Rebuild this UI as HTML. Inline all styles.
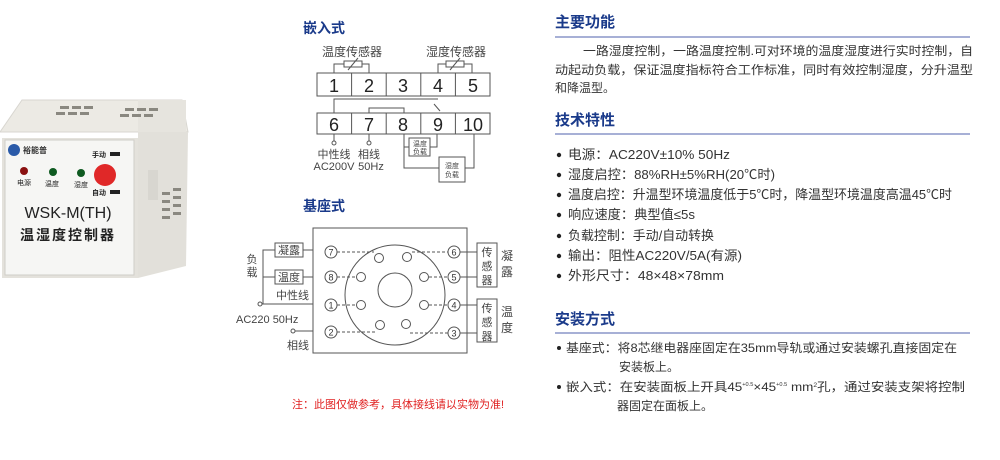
<!DOCTYPE html>
<html><head><meta charset="utf-8"><style>
html,body{margin:0;padding:0;background:#fff;}
svg{display:block;}
text{font-family:"Liberation Sans","Noto Sans CJK SC",sans-serif;}
</style></head><body>
<svg width="1000" height="460" viewBox="0 0 1000 460" xmlns="http://www.w3.org/2000/svg">
<!-- Product -->
<polygon points="22,100 182,100 188,132 0,132" fill="#eceae4" stroke="#d8d6d0"/>
<rect x="138" y="100" width="48" height="166" fill="#e6e4de"/>
<polygon points="138,132 188,132 186,266 138,278" fill="#e2e0da"/>
<rect x="148" y="170" width="10" height="30" fill="#d8d6d0"/>
<g fill="#8a8880">
<rect x="60" y="106" width="9" height="3"/><rect x="72" y="106" width="9" height="3"/><rect x="84" y="106" width="9" height="3"/>
<rect x="56" y="112" width="9" height="3"/><rect x="68" y="112" width="9" height="3"/><rect x="80" y="112" width="9" height="3"/>
<rect x="125" y="108" width="9" height="3"/><rect x="137" y="108" width="9" height="3"/><rect x="149" y="108" width="9" height="3"/>
<rect x="120" y="114" width="9" height="3"/><rect x="132" y="114" width="9" height="3"/><rect x="144" y="114" width="9" height="3"/>
<rect x="162" y="192" width="8" height="3"/><rect x="173" y="188" width="8" height="3"/>
<rect x="162" y="200" width="8" height="3"/><rect x="173" y="196" width="8" height="3"/>
<rect x="162" y="208" width="8" height="3"/><rect x="173" y="204" width="8" height="3"/>
<rect x="162" y="216" width="8" height="3"/><rect x="173" y="212" width="8" height="3"/>
</g>
<rect x="2" y="138" width="136" height="140" fill="#e4e2dc"/>
<rect x="5" y="140" width="129" height="135" fill="#f6f6f4" stroke="#cfcdc8"/>
<circle cx="14" cy="150" r="6" fill="#2a5aa8"/>
<text x="23" y="153" font-size="8" font-weight="bold" fill="#333">裕能普</text>
<text x="92" y="157" font-size="7" font-weight="bold" fill="#222">手动</text>
<rect x="110" y="152" width="10" height="4" fill="#222"/>
<text x="92" y="195" font-size="7" font-weight="bold" fill="#222">自动</text>
<rect x="110" y="190" width="10" height="4" fill="#222"/>
<circle cx="24" cy="171" r="4" fill="#8a1010"/>
<circle cx="53" cy="172" r="4" fill="#0e5a20"/>
<circle cx="81" cy="173" r="4" fill="#0e5a20"/>
<text x="17" y="185" font-size="7" fill="#222">电源</text>
<text x="45" y="186" font-size="7" fill="#222">温度</text>
<text x="74" y="187" font-size="7" fill="#222">湿度</text>
<circle cx="105" cy="175" r="11" fill="#e02828"/>
<text x="68" y="218" font-size="16" fill="#222" text-anchor="middle">WSK-M(TH)</text>
<text x="68" y="240" font-size="14" font-weight="bold" fill="#222" text-anchor="middle" letter-spacing="2">温湿度控制器</text>

<!-- 嵌入式 -->
<g stroke="#555" fill="none" stroke-width="1">
<text x="303" y="33" font-size="14" font-weight="bold" fill="#1a3a8a" stroke="none">嵌入式</text>
<text x="352" y="56" font-size="12" fill="#444" stroke="none" text-anchor="middle">温度传感器</text>
<text x="456" y="56" font-size="12" fill="#444" stroke="none" text-anchor="middle">湿度传感器</text>
<polyline points="334,73 334,64 369,64 369,73"/>
<rect x="344" y="61" width="18" height="6" fill="#fff"/><line x1="348" y1="70" x2="358" y2="58"/>
<polyline points="438,73 438,64 472,64 472,73"/>
<rect x="446" y="61" width="18" height="6" fill="#fff"/><line x1="450" y1="70" x2="460" y2="58"/>
<rect x="317" y="73" width="173" height="23"/>
<line x1="351.6" y1="73" x2="351.6" y2="96"/><line x1="386.2" y1="73" x2="386.2" y2="96"/><line x1="420.8" y1="73" x2="420.8" y2="96"/><line x1="455.4" y1="73" x2="455.4" y2="96"/>
<rect x="317" y="113" width="173" height="21"/>
<line x1="351.6" y1="113" x2="351.6" y2="134"/><line x1="386.2" y1="113" x2="386.2" y2="134"/><line x1="420.8" y1="113" x2="420.8" y2="134"/><line x1="455.4" y1="113" x2="455.4" y2="134"/>
<polyline points="334,113 334,99 438,99"/><line x1="434" y1="104" x2="440" y2="111"/>
<polyline points="369,113 369,108 404,108 404,113"/>
<line x1="334" y1="134" x2="334" y2="141"/><circle cx="334" cy="143" r="2"/>
<line x1="369" y1="134" x2="369" y2="141"/><circle cx="369" cy="143" r="2"/>
<polyline points="404,134 404,168 439,168"/>
<polyline points="404,147 409,147"/>
<polyline points="437,134 437,147 430,147"/>
<rect x="409" y="138" width="21" height="18"/>
<rect x="439" y="157" width="26" height="25"/>
<polyline points="474,134 474,168 465,168"/>
</g>
<g font-size="18" fill="#222" text-anchor="middle">
<text x="334" y="92">1</text><text x="369" y="92">2</text><text x="403" y="92">3</text><text x="438" y="92">4</text><text x="473" y="92">5</text>
<text x="334" y="131">6</text><text x="369" y="131">7</text><text x="403" y="131">8</text><text x="438" y="131">9</text><text x="473" y="131">10</text>
</g>
<g font-size="7" fill="#444" text-anchor="middle">
<text x="420" y="146">温度</text><text x="420" y="154">负载</text>
<text x="452" y="168">湿度</text><text x="452" y="177">负载</text>
</g>
<g font-size="11" fill="#444" text-anchor="middle">
<text x="334" y="158">中性线</text><text x="369" y="158">相线</text>
<text x="334" y="170">AC200V</text><text x="371" y="170">50Hz</text>
</g>

<!-- 基座式 -->
<text x="303" y="211" font-size="14" font-weight="bold" fill="#1a3a8a">基座式</text>
<g stroke="#555" fill="none" stroke-width="1">
<rect x="313" y="228" width="154" height="125"/>
<circle cx="395" cy="295" r="50"/>
<circle cx="395" cy="290" r="17"/>
<g fill="#fff">
<circle cx="379" cy="258" r="4.5"/><circle cx="407" cy="257" r="4.5"/>
<circle cx="361" cy="277" r="4.5"/><circle cx="424" cy="277" r="4.5"/>
<circle cx="361" cy="305" r="4.5"/><circle cx="424" cy="305" r="4.5"/>
<circle cx="380" cy="325" r="4.5"/><circle cx="406" cy="324" r="4.5"/>
</g>
<g stroke-dasharray="3,2">
<line x1="337" y1="252" x2="374" y2="252"/><line x1="337" y1="277" x2="356" y2="277"/><line x1="337" y1="305" x2="356" y2="305"/><line x1="337" y1="332" x2="376" y2="332"/>
<line x1="412" y1="252" x2="448" y2="252"/><line x1="429" y1="277" x2="448" y2="277"/><line x1="429" y1="305" x2="448" y2="305"/><line x1="410" y1="333" x2="448" y2="333"/>
</g>
<g fill="#fff">
<circle cx="331" cy="252" r="6"/><circle cx="331" cy="277" r="6"/><circle cx="331" cy="305" r="6"/><circle cx="331" cy="332" r="6"/>
<circle cx="454" cy="252" r="6"/><circle cx="454" cy="277" r="6"/><circle cx="454" cy="305" r="6"/><circle cx="454" cy="333" r="6"/>
</g>
<rect x="275" y="243" width="28" height="14"/><rect x="275" y="270" width="28" height="14"/>
<line x1="303" y1="250" x2="313" y2="250"/><line x1="303" y1="277" x2="313" y2="277"/>
<polyline points="275,250 263,250 263,304"/><line x1="263" y1="277" x2="275" y2="277"/>
<line x1="262" y1="304" x2="313" y2="304"/><circle cx="260" cy="304" r="2" fill="#fff"/>
<line x1="295" y1="331" x2="313" y2="331"/><circle cx="293" cy="331" r="2" fill="#fff"/>
<rect x="477" y="243" width="20" height="44"/><rect x="477" y="299" width="20" height="43"/>
<polyline points="460,252 477,252"/><polyline points="460,277 477,277"/>
<polyline points="460,305 477,305"/><polyline points="460,333 477,333"/>
</g>
<g font-size="9" fill="#333" text-anchor="middle">
<text x="331" y="255.5">7</text><text x="331" y="280.5">8</text><text x="331" y="308.5">1</text><text x="331" y="335.5">2</text>
<text x="454" y="255.5">6</text><text x="454" y="280.5">5</text><text x="454" y="308.5">4</text><text x="454" y="336.5">3</text>
</g>
<g font-size="11" fill="#444">
<text x="289" y="254" text-anchor="middle">凝露</text><text x="289" y="281" text-anchor="middle">温度</text>
<text x="252" y="263" text-anchor="middle">负</text><text x="252" y="276" text-anchor="middle">载</text>
<text x="276" y="299">中性线</text>
<text x="236" y="323">AC220 50Hz</text>
<text x="287" y="349">相线</text>
<text x="487" y="256" text-anchor="middle">传</text><text x="487" y="270" text-anchor="middle">感</text><text x="487" y="284" text-anchor="middle">器</text>
<text x="487" y="312" text-anchor="middle">传</text><text x="487" y="326" text-anchor="middle">感</text><text x="487" y="340" text-anchor="middle">器</text>
<text x="507" y="260" text-anchor="middle" font-size="12">凝</text><text x="507" y="276" text-anchor="middle" font-size="12">露</text>
<text x="507" y="316" text-anchor="middle" font-size="12">温</text><text x="507" y="332" text-anchor="middle" font-size="12">度</text>
</g>
<text x="398" y="408" font-size="11" fill="#e02020" text-anchor="middle">注：此图仅做参考，具体接线请以实物为准!</text>

<!-- Right panel -->
<g fill="#1a3a8a" font-size="15" font-weight="bold">
<text x="555" y="27">主要功能</text><text x="555" y="125">技术特性</text><text x="555" y="324">安装方式</text>
</g>
<g stroke="#8a96c8" stroke-width="1.5">
<line x1="555" y1="37" x2="970" y2="37"/><line x1="555" y1="134" x2="970" y2="134"/><line x1="555" y1="333" x2="970" y2="333"/>
</g>
<g font-size="12" fill="#333">
<text x="583" y="55" textLength="390" lengthAdjust="spacingAndGlyphs">一路湿度控制，一路温度控制.可对环境的温度湿度进行实时控制，自</text>
<text x="555" y="74" textLength="418" lengthAdjust="spacingAndGlyphs">动起动负载，保证温度指标符合工作标准，同时有效控制湿度，分升温型</text>
<text x="555" y="92">和降温型。</text>
</g>
<g font-size="13" fill="#333">
<g fill="#222"><circle cx="559" cy="155" r="2.2"/><circle cx="559" cy="175" r="2.2"/><circle cx="559" cy="195" r="2.2"/><circle cx="559" cy="215" r="2.2"/><circle cx="559" cy="236" r="2.2"/><circle cx="559" cy="256" r="2.2"/><circle cx="559" cy="276" r="2.2"/>
<circle cx="559" cy="348" r="2"/><circle cx="559" cy="387" r="2"/></g>
<text x="568" y="159" textLength="162" lengthAdjust="spacingAndGlyphs">电源：AC220V±10% 50Hz</text>
<text x="568" y="179" textLength="207" lengthAdjust="spacingAndGlyphs">湿度启控：88%RH±5%RH(20℃时)</text>
<text x="568" y="199" textLength="384" lengthAdjust="spacingAndGlyphs">温度启控：升温型环境温度低于5℃时，降温型环境温度高温45℃时</text>
<text x="568" y="219" textLength="127" lengthAdjust="spacingAndGlyphs">响应速度：典型值≤5s</text>
<text x="568" y="240" textLength="146" lengthAdjust="spacingAndGlyphs">负载控制：手动/自动转换</text>
<text x="568" y="260" textLength="174" lengthAdjust="spacingAndGlyphs">输出：阻性AC220V/5A(有源)</text>
<text x="568" y="280" textLength="156" lengthAdjust="spacingAndGlyphs">外形尺寸：48×48×78mm</text>
</g>
<g font-size="12" fill="#333">
<text x="566" y="352" textLength="391" lengthAdjust="spacingAndGlyphs">基座式：将8芯继电器座固定在35mm导轨或通过安装螺孔直接固定在</text>
<text x="619" y="371">安装板上。</text>
<text x="566" y="391" textLength="399" lengthAdjust="spacingAndGlyphs">嵌入式：在安装面板上开具45<tspan font-size="5" dy="-5">+0.5</tspan><tspan dy="5">×45</tspan><tspan font-size="5" dy="-5">+0.5</tspan><tspan dy="5"> mm</tspan><tspan font-size="6" dy="-4">2</tspan><tspan dy="4">孔，通过安装支架将控制</tspan></text>
<text x="617" y="410">器固定在面板上。</text>
</g>
</svg>
</body></html>
